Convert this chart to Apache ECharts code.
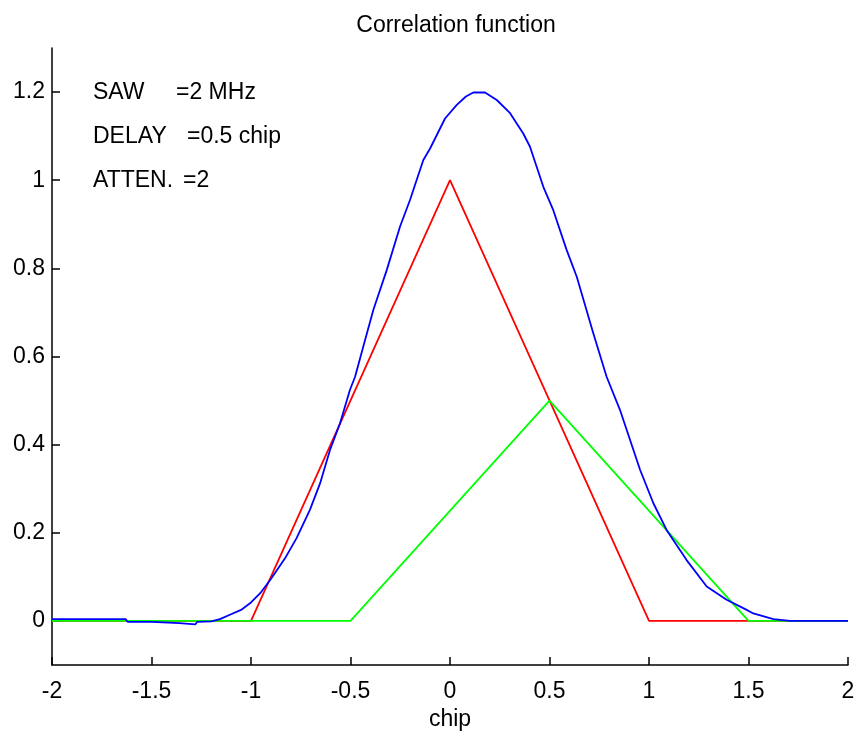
<!DOCTYPE html>
<html>
<head>
<meta charset="utf-8">
<script src="https://cdn.jsdelivr.net/npm/echarts@6/dist/echarts.min.js"></script>
<style>
  html, body { margin: 0; padding: 0; background: #fff; }
  #chart { width: 860px; height: 731px; }
</style>
</head>
<body>
<div id="chart"></div>
<script>
'use strict';

// blue: combined correlation
var blueX = [-2, -1.63, -1.62, -1.5, -1.49, -1.36, -1.35, -1.28, -1.27, -1.2, -1.156, -1.106, -1.05, -1.0, -0.95, -0.9,
  -0.829, -0.771, -0.704, -0.653, -0.603, -0.553, -0.503, -0.477, -0.436, -0.385, -0.318, -0.251, -0.201, -0.168,
  -0.134, -0.1, -0.025, 0.034, 0.08, 0.117, 0.176, 0.235, 0.302, 0.368, 0.402, 0.469, 0.519, 0.586, 0.637, 0.72,
  0.787, 0.854, 0.955, 1.022, 1.089, 1.189, 1.29, 1.39, 1.491, 1.524, 1.625, 1.709, 2];
var blueY = [0.004, 0.004, -0.002, -0.002, -0.005, -0.005, -0.008, -0.008, -0.002, -0.001, 0.004, 0.014, 0.025, 0.042, 0.065, 0.095,
  0.142, 0.188, 0.252, 0.312, 0.388, 0.448, 0.524, 0.554, 0.622, 0.706, 0.796, 0.895, 0.955, 1.0,
  1.046, 1.072, 1.14, 1.171, 1.19, 1.199, 1.199, 1.182, 1.152, 1.106, 1.076, 0.985, 0.932, 0.842, 0.781, 0.653,
  0.554, 0.479, 0.343, 0.267, 0.206, 0.138, 0.078, 0.048, 0.025, 0.017, 0.004, 0, 0];

// red: direct path
var redX = [-2, -1, 0, 1, 2];
var redY = [0, 0, 1, 0, 0];

// green: delayed path
var greenX = [-2, -0.5, 0.5, 1.5, 2];
var greenY = [0, 0, 0.5, 0, 0];

var yTicks = [0, 0.2, 0.4, 0.6, 0.8, 1, 1.2];

var notes = [
  ['SAW', '=2 MHz'],
  ['DELAY', '=0.5 chip'],
  ['ATTEN.', '=2']
];
var noteValueLeft = [176, 187, 183];

var pairs = function(xs, ys) {
  return xs.map(function(x, i) { return [x, ys[i]]; });
};

var font = 'Liberation Sans, Arial, sans-serif';
var fs = 23;

var graphic = [];
notes.forEach(function(n, i) {
  graphic.push({
    type: 'text', left: 93, top: 81 + i * 44.3,
    style: { text: n[0], font: fs + 'px ' + font, fill: '#000' }
  });
  graphic.push({
    type: 'text', left: noteValueLeft[i], top: 81 + i * 44.3,
    style: { text: n[1], font: fs + 'px ' + font, fill: '#000' }
  });
});

var lineSeries = function(xs, ys, color) {
  return {
    type: 'line',
    data: pairs(xs, ys),
    showSymbol: false,
    symbol: 'none',
    lineStyle: { color: color, width: 1.8 },
    itemStyle: { color: color },
    animation: false
  };
};

var chart = echarts.init(document.getElementById('chart'));
chart.setOption({
  animation: false,
  backgroundColor: '#fff',
  title: {
    text: 'Correlation function',
    left: 451, top: 9, textAlign: 'center',
    textStyle: { fontFamily: font, fontSize: fs, fontWeight: 'normal', color: '#000' }
  },
  grid: { left: 52, right: 12, top: 48, bottom: 66, containLabel: false, outerBoundsMode: 'none' },
  xAxis: {
    type: 'value', min: -2, max: 2, interval: 0.5,
    name: 'chip', nameLocation: 'middle', nameGap: 42,
    nameTextStyle: { fontFamily: font, fontSize: fs, color: '#000' },
    axisLine: { show: true, onZero: false, lineStyle: { color: '#000', width: 1.5 } },
    axisTick: { show: true, inside: true, length: 8, lineStyle: { color: '#000', width: 1.5 } },
    axisLabel: { fontFamily: font, fontSize: fs, color: '#000', margin: 15 },
    splitLine: { show: false }
  },
  yAxis: {
    type: 'value', min: -0.1, max: 1.3,
    axisLine: { show: true, onZero: false, lineStyle: { color: '#000', width: 1.5 } },
    axisTick: { show: true, inside: true, length: 8, customValues: yTicks, lineStyle: { color: '#000', width: 1.5 } },
    axisLabel: { fontFamily: font, fontSize: fs, color: '#000', margin: 7, customValues: yTicks },
    splitLine: { show: false }
  },
  graphic: graphic,
  series: [
    lineSeries(redX, redY, '#ff0000'),
    lineSeries(greenX, greenY, '#00ff00'),
    lineSeries(blueX, blueY, '#0000ff')
  ]
});
</script>
</body>
</html>
